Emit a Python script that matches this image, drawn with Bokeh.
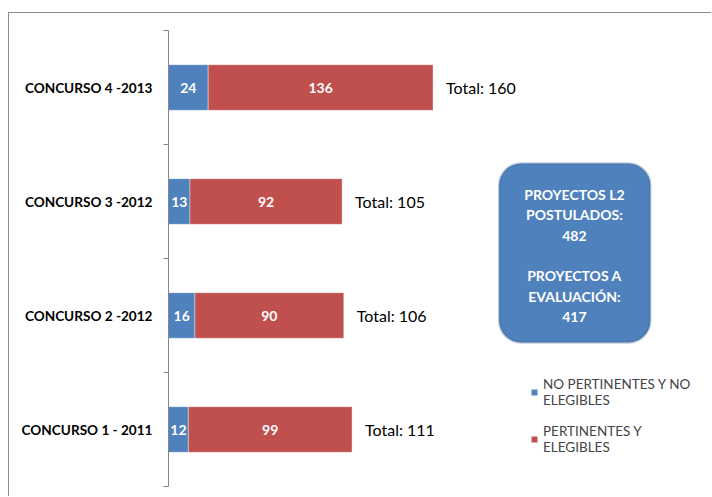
from bokeh.plotting import figure
from bokeh.models import Range1d, FixedTicker, BoxAnnotation, Legend, LegendItem, ColumnDataSource
from bokeh.core.properties import value
from bokeh.embed import file_html
from bokeh.resources import INLINE

# ---- data ----
categories = ["CONCURSO 1 - 2011", "CONCURSO 2 -2012", "CONCURSO 3 -2012", "CONCURSO 4 -2013"]
no_pertinentes = [12, 16, 13, 24]
pertinentes = [99, 90, 92, 136]
series_names = ["NO PERTINENTES Y NO\nELEGIBLES", "PERTINENTES Y\nELEGIBLES"]
box_text = "PROYECTOS L2\nPOSTULADOS:\n482\n\nPROYECTOS A\nEVALUACIÓN:\n417"
colors = ["#4F81BD", "#C0504D"]

n = len(categories)
ypos = [i + 0.5 for i in range(n)]
totals = [a + b for a, b in zip(no_pertinentes, pertinentes)]

src = ColumnDataSource(dict(
    y=ypos,
    a0=[0] * n,
    a1=no_pertinentes,
    b1=totals,
    amid=[v / 2 for v in no_pertinentes],
    bmid=[a + b / 2 for a, b in zip(no_pertinentes, pertinentes)],
    atxt=[str(v) for v in no_pertinentes],
    btxt=[str(v) for v in pertinentes],
    ttxt=["Total: %d" % t for t in totals],
))

FONT = "Lato"

p = figure(width=703, height=484, output_backend="svg", toolbar_location=None,
           x_range=Range1d(0, 329), y_range=Range1d(0, n),
           x_axis_location=None, min_border_left=159, min_border_top=17,
           min_border_bottom=11, min_border_right=0,
           margin=(12, 0, 0, 8),
           styles={"border-top": "1px solid #8c8c8c", "border-left": "1px solid #8c8c8c"})
p.outline_line_color = None
p.xgrid.visible = False
p.ygrid.visible = False

rb = p.hbar(y="y", left="a0", right="a1", height=0.4, source=src,
            fill_color=colors[0], line_color="white", line_alpha=0.4)
rr = p.hbar(y="y", left="a1", right="b1", height=0.4, source=src,
            fill_color=colors[1], line_color="white", line_alpha=0.4)

p.text(x="amid", y="y", text="atxt", source=src, text_align="center", text_baseline="middle",
       text_color="white", text_font=value(FONT), text_font_style="bold", text_font_size="14px")
p.text(x="bmid", y="y", text="btxt", source=src, text_align="center", text_baseline="middle",
       text_color="white", text_font=value(FONT), text_font_style="bold", text_font_size="14px")
p.text(x="b1", y="y", text="ttxt", source=src, x_offset=13, text_align="left", text_baseline="middle",
       text_color="black", text_font=value(FONT), text_font_size="16px")

ax = p.yaxis[0]
ax.ticker = FixedTicker(ticks=ypos, minor_ticks=list(range(n + 1)))
ax.major_label_overrides = {y: c for y, c in zip(ypos, categories)}
ax.major_tick_line_color = None
ax.major_tick_out = 0
ax.major_tick_in = 0
ax.minor_tick_line_color = "#868686"
ax.minor_tick_out = 5
ax.minor_tick_in = 0
ax.axis_line_color = "#868686"
ax.major_label_standoff = 11
ax.major_label_text_font = FONT
ax.major_label_text_font_style = "bold"
ax.major_label_text_font_size = "13.6px"
ax.major_label_text_color = "black"

box = BoxAnnotation(left=200, right=291.4, top=2.833, bottom=1.263,
                    fill_color="#4F81BD", fill_alpha=1, line_color="#385D8A", line_width=2.5,
                    border_radius=22, level="underlay")
p.add_layout(box)
p.text(x=[245.5], y=[2.026], text=[box_text], text_align="center", text_baseline="middle",
       text_color="white", text_font=value(FONT), text_font_style="bold", text_font_size="14px",
       text_line_height=1.2)

legend = Legend(items=[LegendItem(label=series_names[0], renderers=[rb]),
                       LegendItem(label=series_names[1], renderers=[rr])],
                location=(362, 31), padding=0, margin=0, spacing=15,
                glyph_width=8, glyph_height=8, label_standoff=5,
                label_text_font=FONT, label_text_font_size="13.5px", label_text_line_height=1.5,
                border_line_color=None, background_fill_alpha=0)
p.add_layout(legend)

open("out.html", "w").write(file_html(p, INLINE))
